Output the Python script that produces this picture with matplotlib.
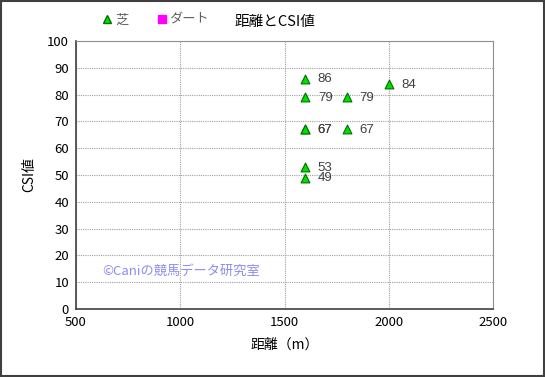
import matplotlib.pyplot as plt
from matplotlib.lines import Line2D

plt.rcParams['font.family'] = ['Noto Sans CJK JP', 'DejaVu Sans']

# 芝 (turf) points: distance, CSI
turf_dist = [1600, 1600, 1600, 1600, 1600, 1600, 1800, 1800, 2000]
turf_csi = [86, 79, 67, 67, 53, 49, 79, 67, 84]
# ダート (dirt): no points in this chart
dirt_dist = []
dirt_csi = []

x_ticks = [500, 1000, 1500, 2000, 2500]
y_ticks = list(range(0, 101, 10))

fig = plt.figure(figsize=(5.45, 3.77), dpi=100)
ax = fig.add_axes([76 / 545, 1 - 309 / 377, (493 - 76) / 545, (309 - 41) / 377])

ax.scatter(turf_dist, turf_csi, marker='^', s=40, color='#00e000',
           edgecolors='#007000', linewidths=0.8, zorder=3)
ax.scatter(dirt_dist, dirt_csi, marker='s', s=30, color='#ff00ff', zorder=3)
for x, y in zip(turf_dist, turf_csi):
    ax.annotate(str(y), (x, y), xytext=(9, -0.5), textcoords='offset points',
                fontsize=9.5, color='#404040', va='center', ha='left',
                family=['Liberation Sans', 'DejaVu Sans'])

ax.set_xlim(500, 2500)
ax.set_ylim(0, 100)
ax.set_xticks(x_ticks)
ax.set_yticks(y_ticks)
ax.tick_params(length=0, labelsize=9.5, pad=5)
ax.grid(True, color='#a0a0a0', linestyle=(0, (1, 1)), linewidth=0.8)
for s in ['top', 'right']:
    ax.spines[s].set_color('#909090')
for s in ['left', 'bottom']:
    ax.spines[s].set_color('#404040')
    ax.spines[s].set_linewidth(1.2)

ax.set_xlabel('距離（m）', fontsize=10, labelpad=6)
ax.set_ylabel('CSI値', fontsize=10, labelpad=8)

ax.text(0.062, 0.142, '©Caniの競馬データ研究室', transform=ax.transAxes,
        fontsize=9.5, color='#8c8cf0', va='center')

fig.text(275 / 545, 1 - 22 / 377, '距離とCSI値', fontsize=10.5, ha='center', va='center')

handles = [Line2D([], [], marker='^', color='#00e000', markeredgecolor='#007000',
                  linestyle='none', markersize=6),
           Line2D([], [], marker='s', color='#ff00ff', markeredgecolor='#ff00ff',
                  linestyle='none', markersize=6)]
leg = fig.legend(handles, ['芝', 'ダート'], loc='center left',
                 bbox_to_anchor=(89 / 545, 1 - 20 / 377), ncol=2, frameon=False,
                 fontsize=9.5, handletextpad=0.1, columnspacing=2.0, handlelength=1)
for t in leg.get_texts():
    t.set_color('#606060')

border = plt.Rectangle((0.002, 0.003), 0.996, 0.994, transform=fig.transFigure,
                       fill=False, edgecolor='#404040', linewidth=1.5)
fig.patches.append(border)

fig.savefig('out.png', dpi=100)
